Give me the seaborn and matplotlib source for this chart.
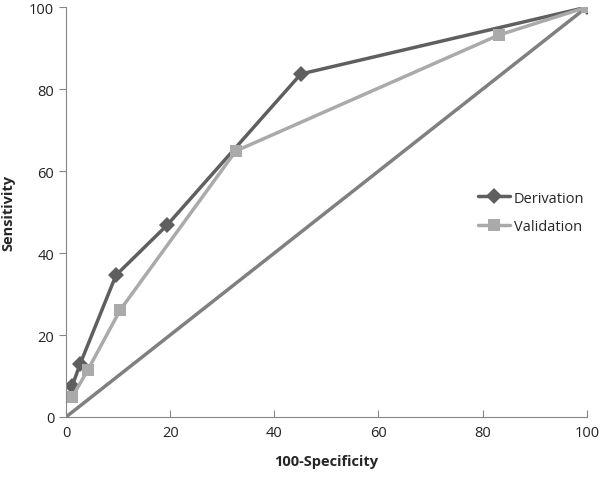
import pandas as pd
import matplotlib.pyplot as plt
import seaborn as sns

# ROC points
deriv_x = [1.2, 2.7, 9.6, 19.4, 45.1, 100]
deriv_y = [7.6, 12.9, 34.6, 46.8, 83.7, 100]
valid_x = [1.2, 4.2, 10.4, 32.6, 83.1, 100]
valid_y = [4.9, 11.5, 26.1, 64.9, 93.2, 100]
ref_x = [0, 100]
ref_y = [0, 100]

df = pd.concat([
    pd.DataFrame({'x': deriv_x, 'y': deriv_y, 'group': 'Derivation'}),
    pd.DataFrame({'x': valid_x, 'y': valid_y, 'group': 'Validation'}),
])

sns.set_style('white')
plt.rcParams['font.family'] = ['Open Sans', 'DejaVu Sans']

fig = plt.figure(figsize=(6, 4.81), dpi=100)
ax = fig.add_axes([0.11, 0.131, 0.868, 0.852])

sns.lineplot(x=ref_x, y=ref_y, color='#808080', linewidth=2.5, ax=ax)
sns.lineplot(data=df, x='x', y='y', hue='group', style='group',
             palette={'Derivation': '#5f5f5f', 'Validation': '#aaaaaa'},
             markers={'Derivation': 'D', 'Validation': 's'},
             dashes=False, linewidth=2.5, markersize=8, markeredgewidth=0,
             sort=False, ax=ax)

ax.set_xlim(0, 100)
ax.set_ylim(0, 100)
ax.set_xticks(range(0, 101, 20))
ax.set_yticks(range(0, 101, 20))
for s in ['top', 'right']:
    ax.spines[s].set_visible(False)
for s in ['left', 'bottom']:
    ax.spines[s].set_color('#868686')
    ax.spines[s].set_linewidth(0.8)
ax.tick_params(axis='x', direction='in', length=5, color='#868686', labelsize=10.5, pad=6)
ax.tick_params(axis='y', direction='out', length=5, color='#868686', labelsize=10.5)
ax.tick_params(bottom=True, left=True, labelcolor='#222222')

ax.set_xlabel('100-Specificity', fontweight='bold', fontsize=10.5, labelpad=10)
ax.set_ylabel('Sensitivity', fontweight='bold', fontsize=10.5, labelpad=10)

leg = ax.legend(loc='center left', bbox_to_anchor=(0.765, 0.50), frameon=False,
                fontsize=10.5, handlelength=2.2, handletextpad=0.3, labelspacing=0.9)

fig.savefig('out.png', dpi=100)
